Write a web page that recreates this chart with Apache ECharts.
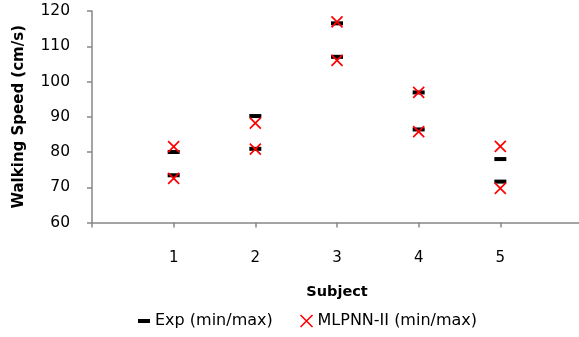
<!DOCTYPE html>
<html>
<head>
<meta charset="utf-8">
<script src="https://cdn.jsdelivr.net/npm/echarts@6/dist/echarts.min.js"></script>
<style>html,body{margin:0;padding:0;background:#fff;}#c{width:579px;height:337px;}</style>
</head>
<body>
<div id="c"></div>
<script>
var subjects = [1, 2, 3, 4, 5];
var expMin = [73.4, 80.9, 107.0, 86.4, 71.6];
var expMax = [80.0, 90.2, 116.5, 96.9, 78.0];
var mlpMin = [72.5, 80.8, 106.0, 85.8, 69.7];
var mlpMax = [81.5, 88.2, 116.9, 96.9, 81.6];
var seriesNames = ['Exp (min/max)', 'MLPNN-II (min/max)'];
var yTicks = [60, 70, 80, 90, 100, 110, 120];

function pairs(a, b) {
  var out = [];
  subjects.forEach(function (s, i) { out.push([s, a[i]]); out.push([s, b[i]]); });
  return out;
}
var FONT = 'DejaVu Sans';
var X_PATH = 'path://M0,0L10,10M10,0L0,10';
var chart = echarts.init(document.getElementById('c'), null, {renderer: 'canvas'});
chart.setOption({
  animation: false,
  textStyle: {fontFamily: FONT},
  grid: {left: 92, top: 11, width: 490, height: 211.5, containLabel: false, outerBoundsMode: 'none'},
  xAxis: {
    type: 'value', min: 0, max: 6, interval: 1,
    name: 'Subject', nameLocation: 'middle', nameGap: 62,
    nameTextStyle: {fontFamily: FONT, fontWeight: 'bold', fontSize: 14.5, color: '#000'},
    axisLine: {lineStyle: {color: '#868686', width: 1.5}},
    axisTick: {show: true, length: 5, lineStyle: {color: '#868686', width: 1.5}},
    axisLabel: {fontFamily: FONT, fontSize: 15, color: '#000', margin: 28,
      formatter: function (v) { return subjects.indexOf(v) >= 0 ? String(v) : ''; }},
    splitLine: {show: false}
  },
  yAxis: {
    type: 'value', min: yTicks[0], max: yTicks[yTicks.length - 1], interval: 10,
    name: 'Walking Speed (cm/s)', nameLocation: 'middle', nameGap: 65, nameRotate: 90,
    nameTextStyle: {fontFamily: FONT, fontWeight: 'bold', fontSize: 15, color: '#000'},
    axisLine: {show: true, lineStyle: {color: '#868686', width: 1.5}},
    axisTick: {show: true, length: 5, lineStyle: {color: '#868686', width: 1.5}},
    axisLabel: {fontFamily: FONT, fontSize: 15.5, color: '#000', margin: 22},
    splitLine: {show: false}
  },
  legend: {
    top: 308, left: 133, itemGap: 27, itemWidth: 12, itemHeight: 12,
    textStyle: {fontFamily: FONT, fontSize: 16, color: '#000'},
    data: [
      {name: seriesNames[0], icon: 'path://M0,0h12v4h-12z', itemStyle: {color: '#000'}},
      {name: seriesNames[1], icon: X_PATH, itemStyle: {color: 'rgba(0,0,0,0)', borderColor: '#ff0000', borderWidth: 1.6}}
    ]
  },
  series: [
    {
      name: seriesNames[0], type: 'scatter', data: pairs(expMin, expMax),
      symbol: 'rect', symbolSize: [12, 4], itemStyle: {color: '#000', opacity: 1}, z: 2
    },
    {
      name: seriesNames[1], type: 'scatter', data: pairs(mlpMin, mlpMax),
      symbol: X_PATH, symbolSize: 11,
      itemStyle: {color: 'rgba(0,0,0,0)', borderColor: '#ff0000', borderWidth: 1.7, opacity: 1}, z: 3
    }
  ]
});
</script>
</body>
</html>
